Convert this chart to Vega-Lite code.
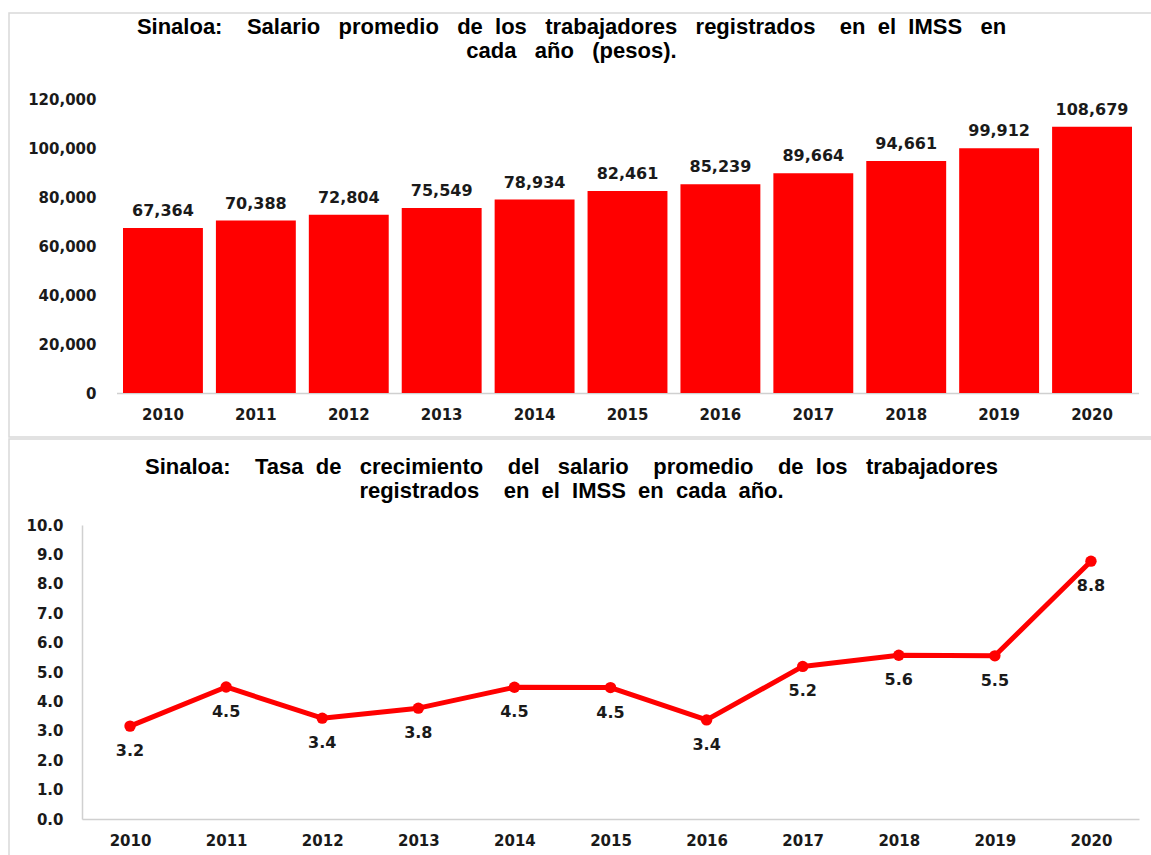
{
  "$schema": "https://vega.github.io/schema/vega-lite/v6.json",
  "padding": {"left": 8, "top": 12, "right": 0, "bottom": 0},
  "autosize": {"type": "pad"},
  "spacing": 0,
  "background": "white",
  "config": {
    "view": {"stroke": "#d9d9d9", "strokeWidth": 1.5},
    "axis": {
      "labelFont": "DejaVu Sans",
      "labelFontWeight": "bold",
      "labelFontSize": 15,
      "labelColor": "#1a1a1a",
      "grid": false,
      "ticks": false,
      "tickSize": 0,
      "title": null,
      "domainColor": "#d0d0d0",
      "domainWidth": 1.5,
      "labelFlush": false,
      "labelOverlap": false
    },
    "title": {
      "font": "Liberation Sans",
      "fontWeight": "bold",
      "fontSize": 22,
      "color": "#000000",
      "lineHeight": 24,
      "anchor": "middle",
      "frame": "group"
    }
  },
  "vconcat": [
    {
      "width": 1143,
      "height": 424,
      "title": {
        "text": ["Sinaloa:\u00a0\u00a0\u00a0\u00a0Salario\u00a0\u00a0\u00a0promedio\u00a0\u00a0\u00a0de\u00a0\u00a0los\u00a0\u00a0\u00a0trabajadores\u00a0\u00a0\u00a0registrados\u00a0\u00a0\u00a0\u00a0en\u00a0\u00a0el\u00a0\u00a0IMSS\u00a0\u00a0\u00a0en", "cada\u00a0\u00a0\u00a0año\u00a0\u00a0\u00a0(pesos)."],
        "offset": -50,
        "dx": -9
      },
      "data": {
        "values": [
          {"year": "2010", "salario": 67364},
          {"year": "2011", "salario": 70388},
          {"year": "2012", "salario": 72804},
          {"year": "2013", "salario": 75549},
          {"year": "2014", "salario": 78934},
          {"year": "2015", "salario": 82461},
          {"year": "2016", "salario": 85239},
          {"year": "2017", "salario": 89664},
          {"year": "2018", "salario": 94661},
          {"year": "2019", "salario": 99912},
          {"year": "2020", "salario": 108679}
        ]
      },
      "encoding": {
        "x": {
          "field": "year",
          "type": "ordinal",
          "scale": {"range": [107.5, 1129.5], "paddingInner": 0.14, "paddingOuter": 0.07},
          "axis": {"labelAngle": 0, "domain": true, "offset": -44, "labelPadding": 14}
        },
        "y": {
          "field": "salario",
          "type": "quantitative",
          "scale": {"domain": [0, 120000], "range": [380, 86]},
          "axis": {
            "values": [0, 20000, 40000, 60000, 80000, 100000, 120000],
            "format": ",.0f",
            "domain": false,
            "offset": -87,
            "labelPadding": 0
          }
        }
      },
      "layer": [
        {"mark": {"type": "bar", "color": "#ff0000"}},
        {
          "mark": {"type": "text", "font": "DejaVu Sans", "fontWeight": "bold", "fontSize": 16, "baseline": "alphabetic", "dy": -12, "color": "#1a1a1a"},
          "encoding": {"text": {"field": "salario", "type": "quantitative", "format": ",.0f"}}
        }
      ]
    },
    {
      "width": 1143,
      "height": 419,
      "title": {
        "text": ["Sinaloa:\u00a0\u00a0\u00a0\u00a0Tasa\u00a0\u00a0de\u00a0\u00a0\u00a0crecimiento\u00a0\u00a0\u00a0\u00a0del\u00a0\u00a0\u00a0salario\u00a0\u00a0\u00a0\u00a0promedio\u00a0\u00a0\u00a0\u00a0de\u00a0\u00a0los\u00a0\u00a0\u00a0trabajadores", "registrados\u00a0\u00a0\u00a0\u00a0en\u00a0\u00a0el\u00a0\u00a0IMSS\u00a0\u00a0en\u00a0\u00a0cada\u00a0\u00a0año."],
        "offset": -64,
        "dx": -9
      },
      "data": {
        "values": [
          {"year": "2010", "tasa": 3.16},
          {"year": "2011", "tasa": 4.49},
          {"year": "2012", "tasa": 3.43},
          {"year": "2013", "tasa": 3.77},
          {"year": "2014", "tasa": 4.48},
          {"year": "2015", "tasa": 4.47},
          {"year": "2016", "tasa": 3.37},
          {"year": "2017", "tasa": 5.19},
          {"year": "2018", "tasa": 5.57},
          {"year": "2019", "tasa": 5.55},
          {"year": "2020", "tasa": 8.77}
        ]
      },
      "encoding": {
        "x": {
          "field": "year",
          "type": "ordinal",
          "scale": {"type": "point", "range": [73, 1130], "padding": 0.5},
          "axis": {"labelAngle": 0, "domain": true, "offset": -39, "labelPadding": 14}
        },
        "y": {
          "field": "tasa",
          "type": "quantitative",
          "scale": {"domain": [0, 10], "range": [380, 86]},
          "axis": {
            "values": [0, 1, 2, 3, 4, 5, 6, 7, 8, 9, 10],
            "format": ".1f",
            "domain": true,
            "offset": -73,
            "labelPadding": 19
          }
        }
      },
      "layer": [
        {
          "mark": {"type": "line", "color": "#ff0000", "strokeWidth": 5, "strokeCap": "round", "strokeJoin": "round", "point": {"filled": true, "color": "#ff0000", "size": 130, "opacity": 1}},
          "encoding": {}
        },
        {
          "mark": {"type": "text", "font": "DejaVu Sans", "fontWeight": "bold", "fontSize": 16, "baseline": "middle", "dy": 25, "color": "#1a1a1a"},
          "encoding": {"text": {"field": "tasa", "type": "quantitative", "format": ".1f"}}
        }
      ]
    }
  ]
}
